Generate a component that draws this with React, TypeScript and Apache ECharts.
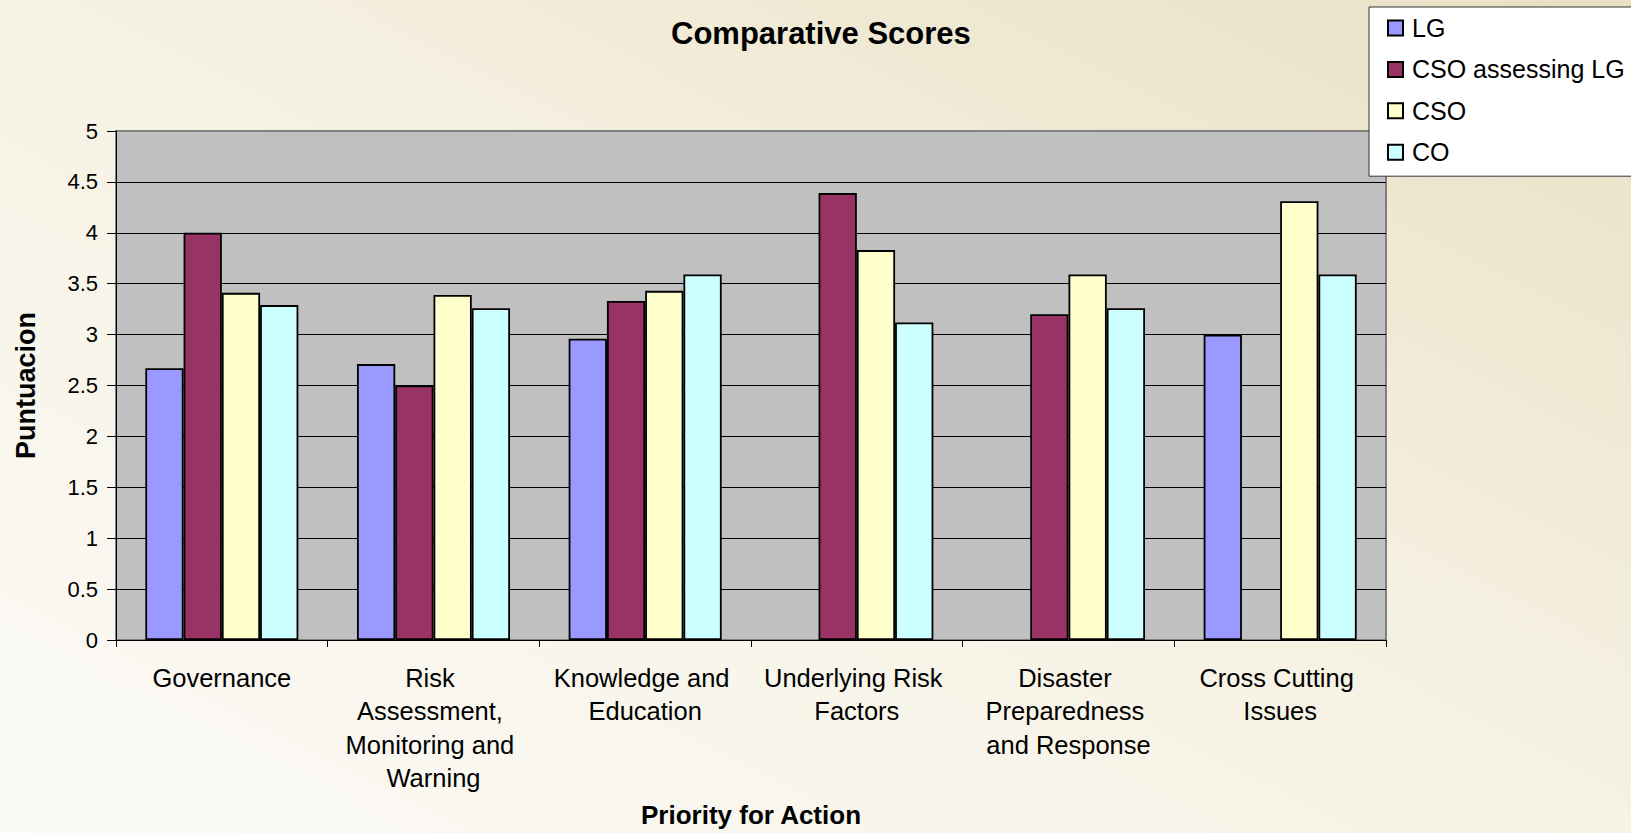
import React, { useEffect, useRef } from "react";
import * as echarts from "echarts";

const categories = [
  "Governance",
  "Risk Assessment, Monitoring and Warning",
  "Knowledge and Education",
  "Underlying Risk Factors",
  "Disaster Preparedness and Response",
  "Cross Cutting Issues",
];

const seriesNames = ["LG", "CSO assessing LG", "CSO", "CO"];

const lgValues = [2.67, 2.71, 2.96, null, null, 3.0];
const csoLgValues = [4.0, 2.5, 3.33, 4.39, 3.2, null];
const csoValues = [3.41, 3.39, 3.43, 3.83, 3.59, 4.31];
const coValues = [3.29, 3.26, 3.59, 3.12, 3.26, 3.59];

const colors = ["#9999ff", "#993366", "#ffffcc", "#ccffff"];

const yTicks = { min: 0, max: 5, interval: 0.5 };

const FONT = "'Liberation Sans', Arial, Helvetica, sans-serif";

export default function App() {
  const ref = useRef<HTMLDivElement>(null);

  useEffect(() => {
    if (!ref.current) return;
    const chart = echarts.init(ref.current, undefined, { renderer: "svg" });
    const data = [lgValues, csoLgValues, csoValues, coValues];
    chart.setOption({
      animation: false,
      backgroundColor: {
        type: "linear",
        x: 0,
        y: 1,
        x2: 1,
        y2: 0,
        colorStops: [
          { offset: 0, color: "#fbfaf6" },
          { offset: 0.5, color: "#f6f2e4" },
          { offset: 1, color: "#e9e0c4" },
        ],
      },
      textStyle: { fontFamily: FONT },
      title: {
        text: "Comparative Scores",
        left: 666,
        top: 13,
        textStyle: { fontFamily: FONT, fontSize: 31, fontWeight: "bold", color: "#000" },
      },
      legend: {
        orient: "vertical",
        left: 1369,
        top: 7,
        padding: [8, 20, 11, 18],
        itemGap: 15.4,
        itemWidth: 15,
        itemHeight: 15,
        icon: "rect",
        backgroundColor: "#ffffff",
        borderColor: "#333333",
        borderWidth: 1,
        data: seriesNames,
        textStyle: {
          fontFamily: FONT,
          fontSize: 25,
          lineHeight: 26,
          color: "#000",
          padding: [0, 0, 0, 4],
        },
      },
      grid: {
        left: 116,
        top: 131,
        right: 245,
        bottom: 188,
        show: true,
        backgroundColor: "#c0c0c0",
        borderColor: "#808080",
        borderWidth: 2,
      },
      xAxis: {
        type: "category",
        data: categories,
        name: "Priority for Action",
        nameLocation: "middle",
        nameGap: 162,
        nameTextStyle: { fontFamily: FONT, fontSize: 26, fontWeight: "bold", color: "#000" },
        axisLine: { lineStyle: { color: "#000", width: 1 } },
        axisTick: { show: true, length: 7, lineStyle: { color: "#000" } },
        axisLabel: {
          interval: 0,
          margin: 21,
          fontFamily: FONT,
          fontSize: 25.5,
          lineHeight: 33.5,
          color: "#000",
          width: 188,
          overflow: "break",
        },
      },
      yAxis: {
        type: "value",
        min: yTicks.min,
        max: yTicks.max,
        interval: yTicks.interval,
        name: "Puntuacion",
        nameLocation: "middle",
        nameGap: 77,
        nameTextStyle: { fontFamily: FONT, fontSize: 27, fontWeight: "bold", color: "#000" },
        axisLine: { show: true, lineStyle: { color: "#000", width: 1 } },
        axisTick: { show: true, length: 9, lineStyle: { color: "#000" } },
        axisLabel: { margin: 18, fontFamily: FONT, fontSize: 22, color: "#000" },
        splitLine: {
          show: true,
          showMaxLine: false,
          lineStyle: { color: "#000", width: 1 },
        },
      },
      series: seriesNames.map((name, i) => ({
        name,
        type: "bar",
        data: data[i],
        barGap: "0%",
        barCategoryGap: "27.7%",
        itemStyle: { color: colors[i], borderColor: "#000", borderWidth: 1.8 },
      })),
    });
    return () => chart.dispose();
  }, []);

  return (
    <div
      ref={ref}
      style={{ position: "fixed", left: 0, top: 0, width: 1631, height: 833 }}
    />
  );
}
